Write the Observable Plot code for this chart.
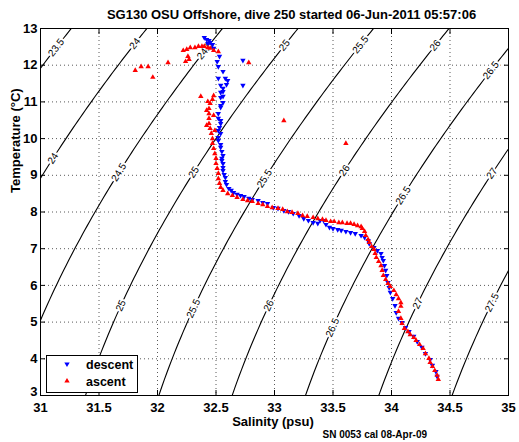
<!DOCTYPE html>
<html><head><meta charset="utf-8">
<script src="https://cdn.jsdelivr.net/npm/d3@7"></script>
<script src="https://cdn.jsdelivr.net/npm/@observablehq/plot@0.6"></script>
<style>
html,body{margin:0;padding:0;background:#fff;}
#chart{position:relative;width:519px;height:442px;}
</style></head><body><div id="chart"></div>
<script>
const chartTitle = "SG130 OSU Offshore, dive 250 started 06-Jun-2011 05:57:06";
const xLabel = "Salinity (psu)";
const yLabel = "Temperature (°C)";
const footnote = "SN 0053 cal 08-Apr-09";
const legendLabels = ["descent", "ascent"];
const salinityTicks = [31, 31.5, 32, 32.5, 33, 33.5, 34, 34.5, 35];
const temperatureTicks = [3, 4, 5, 6, 7, 8, 9, 10, 11, 12, 13];
const densityLevels = [23.5, 24, 24.5, 25, 25.5, 26, 26.5, 27, 27.5];

// contour label positions
const labelText = ["23.5","24","24","24.5","24.5","25","25","25","25.5","25.5","25.5","26","26","26","26.5","26.5","26.5","27","27","27.5"];
const labelS = [31.09,31.80,31.03,32.42,31.64,33.07,32.28,31.69,33.65,32.91,32.29,34.25,33.58,32.96,34.84,34.10,33.49,34.86,34.22,34.85];
const labelT = [12.48,12.59,9.46,12.40,9.08,12.54,9.08,5.45,12.56,8.91,5.37,12.54,9.13,5.45,11.86,8.45,4.85,9.05,5.51,5.53];

// descent (blue, downward triangles)
const descentS = [32.40,32.42,32.44,32.45,32.47,32.43,32.48,32.53,32.51,32.52,32.56,32.52,32.58,32.60,32.54,32.59,32.56,32.56,32.54,32.56,32.54,32.56,32.54,32.54,32.52,32.52,32.54,32.54,32.53,32.52,32.54,32.52,32.52,32.54,32.54,32.55,32.56,32.55,32.55,32.56,32.56,32.56,32.57,32.58,32.58,32.59,32.61,32.63,32.65,32.68,32.71,32.74,32.78,32.81,32.86,32.90,32.94,32.99,33.03,33.08,33.12,33.16,33.21,33.25,33.29,33.33,33.37,33.39,33.42,33.44,33.47,33.50,33.54,33.57,33.61,33.65,33.69,33.74,33.77,33.80,33.81,33.85,33.88,33.91,33.92,33.93,33.94,33.95,33.96,33.97,33.98,33.99,34.01,34.03,34.04,34.06,34.09,34.12,34.15,34.19,34.22,34.26,34.29,34.33,34.35,34.38,34.39,32.73,32.73];
const descentT = [12.75,12.70,12.67,12.62,12.56,12.59,12.46,12.24,12.10,11.96,11.83,11.64,11.64,11.58,11.45,11.47,11.37,11.28,11.26,11.15,11.12,10.98,10.90,10.85,10.68,10.55,10.49,10.41,10.30,10.22,10.14,10.03,9.95,9.84,9.76,9.65,9.54,9.46,9.40,9.32,9.21,9.13,9.02,8.94,8.83,8.75,8.64,8.59,8.53,8.48,8.45,8.42,8.37,8.34,8.31,8.26,8.23,8.12,8.10,8.04,8.01,7.96,7.90,7.82,7.77,7.71,7.69,7.77,7.77,7.66,7.58,7.55,7.52,7.50,7.47,7.44,7.41,7.36,7.31,7.22,7.14,7.03,6.95,6.87,6.76,6.68,6.54,6.41,6.27,6.08,5.94,5.81,5.64,5.45,5.26,5.10,4.99,4.85,4.74,4.61,4.47,4.31,4.14,3.98,3.82,3.65,3.52,12.13,11.45];

// ascent (red, upward triangles)
const ascentS = [34.40,34.39,34.37,34.35,34.33,34.32,34.29,34.27,34.24,34.21,34.19,34.16,34.14,34.11,34.09,34.08,34.06,34.08,34.08,34.06,34.04,34.02,33.99,33.97,33.95,33.93,33.92,33.91,33.89,33.87,33.86,33.85,33.83,33.81,33.80,33.78,33.77,33.75,33.74,33.71,33.68,33.65,33.62,33.58,33.55,33.51,33.48,33.44,33.41,33.37,33.33,33.28,33.24,33.20,33.15,33.11,33.07,33.03,32.98,32.94,32.90,32.86,32.81,32.77,32.73,32.68,32.64,32.60,32.56,32.54,32.53,32.52,32.52,32.51,32.50,32.50,32.49,32.48,32.47,32.47,32.46,32.45,32.44,32.44,32.44,32.44,32.45,32.47,32.43,32.48,32.37,32.42,32.48,32.42,32.49,32.52,32.48,32.45,32.43,32.40,32.38,32.35,32.32,32.28,32.25,32.22,32.26,32.27,32.24,32.09,31.96,31.92,31.86,31.81,32.78,33.08,33.61];
const ascentT = [3.44,3.55,3.68,3.79,3.90,4.01,4.14,4.28,4.39,4.50,4.58,4.66,4.74,4.83,4.96,5.10,5.29,5.43,5.53,5.64,5.75,5.86,5.97,6.05,6.16,6.27,6.41,6.54,6.65,6.76,6.87,6.98,7.06,7.17,7.25,7.36,7.47,7.55,7.60,7.63,7.66,7.69,7.69,7.71,7.71,7.74,7.74,7.77,7.80,7.82,7.85,7.88,7.90,7.96,7.99,8.01,8.07,8.10,8.12,8.15,8.20,8.23,8.29,8.31,8.34,8.40,8.45,8.50,8.59,8.67,8.78,8.91,9.05,9.19,9.32,9.46,9.59,9.73,9.87,10.00,10.14,10.28,10.41,10.55,10.68,10.82,10.96,11.07,11.01,11.17,11.15,10.77,10.63,10.36,10.22,12.37,12.40,12.46,12.48,12.51,12.51,12.51,12.48,12.48,12.43,12.40,12.24,12.16,12.10,12.07,11.67,11.96,11.96,11.86,12.07,10.49,9.87];

// ---- layout ----
const W = 519, H = 442, mT = 28, mL = 40, mR = 11, mB = 47;
const FONT = "'Liberation Sans', Arial, Helvetica, sans-serif";

// seawater potential density anomaly at surface (UNESCO 1981)
function sigma(S, T) {
  const T2 = T*T, T3 = T2*T, T4 = T3*T, T5 = T4*T;
  const rw = 999.842594 + 6.793952e-2*T - 9.095290e-3*T2 + 1.001685e-4*T3 - 1.120083e-6*T4 + 6.536332e-9*T5;
  const A = 8.24493e-1 - 4.0899e-3*T + 7.6438e-5*T2 - 8.2467e-7*T3 + 5.3875e-9*T4;
  const B = -5.72466e-3 + 1.0227e-4*T - 1.6546e-6*T2;
  const C = 4.8314e-4;
  return rw + A*S + B*S*Math.sqrt(S) + C*S*S - 1000;
}
function solveT(S, level) {
  let lo = -2, hi = 30;
  if (sigma(S, lo) < level || sigma(S, hi) > level) return null;
  for (let i = 0; i < 60; i++) { const m = (lo+hi)/2; if (sigma(S, m) > level) lo = m; else hi = m; }
  return (lo+hi)/2;
}
function solveS(T, level) {
  let lo = 25, hi = 40;
  for (let i = 0; i < 60; i++) { const m = (lo+hi)/2; if (sigma(m, T) < level) lo = m; else hi = m; }
  return (lo+hi)/2;
}

const contourPts = [];
for (const level of densityLevels) {
  for (const S of d3.range(30.6, 35.41, 0.02)) {
    const T = solveT(S, level);
    if (T !== null && T > 1 && T < 15) contourPts.push({level, S, T});
  }
}

const kx = (W - mL - mR) / (35 - 31), ky = (H - mT - mB) / (13 - 3);
const labels = labelText.map((text, i) => {
  const level = +text, T = labelT[i], S = solveS(T, level);
  const h = 1e-3;
  const dS = (sigma(S+h, T) - sigma(S-h, T)) / (2*h);
  const dT = (sigma(S, T+h) - sigma(S, T-h)) / (2*h);
  const slope = -dS / dT;
  const angle = Math.atan2(-ky*slope, kx) * 180 / Math.PI;
  return {text, S, T, angle};
});

const descent = descentS.map((S, i) => ({S, T: descentT[i]}));
const ascent = ascentS.map((S, i) => ({S, T: ascentT[i]}));

const sqrt3 = Math.sqrt(3);
const triangleDown = {
  draw(context, size) {
    const y = -Math.sqrt(size / (sqrt3 * 3));
    context.moveTo(0, -y * 2);
    context.lineTo(-sqrt3 * y, y);
    context.lineTo(sqrt3 * y, y);
    context.closePath();
  }
};
const BLUE = "#0000ff", RED = "#ff0000";

const plot = Plot.plot({
  width: W, height: H, marginTop: mT, marginLeft: mL, marginRight: mR, marginBottom: mB,
  style: {fontFamily: FONT, background: "white", color: "black", overflow: "visible"},
  x: {domain: [31, 35]},
  y: {domain: [3, 13]},
  marks: [
    Plot.gridX(salinityTicks.slice(1, -1), {stroke: "#222", strokeOpacity: 0.75, strokeDasharray: "1,3"}),
    Plot.gridY(temperatureTicks.slice(1, -1), {stroke: "#222", strokeOpacity: 0.75, strokeDasharray: "1,3"}),
    Plot.line(contourPts, {x: "S", y: "T", z: "level", stroke: "black", strokeWidth: 1.1, clip: true}),
    Plot.text(labels, {x: "S", y: "T", text: "text", rotate: "angle", fontSize: 10, fill: "black", stroke: "white", strokeWidth: 4, paintOrder: "stroke"}),
    Plot.dot(descent, {x: "S", y: "T", symbol: triangleDown, r: 2, fill: BLUE}),
    Plot.dot(ascent, {x: "S", y: "T", symbol: "triangle", r: 2, fill: RED}),
    Plot.frame({stroke: "black"}),
    Plot.axisX(salinityTicks, {anchor: "bottom", tickSize: -5, tickPadding: 12, fontSize: 13, fontWeight: "bold", label: null, tickFormat: d => String(d)}),
    Plot.axisX(salinityTicks, {anchor: "top", tickSize: -5, label: null, tickFormat: () => ""}),
    Plot.axisY(temperatureTicks.slice(1), {anchor: "left", tickSize: -5, tickPadding: 8, fontSize: 13, fontWeight: "bold", label: null, tickFormat: d => String(d)}),
    Plot.axisY(temperatureTicks.slice(0, 1), {anchor: "left", tickSize: 0, tickPadding: 3, dy: -4, fontSize: 13, fontWeight: "bold", label: null, tickFormat: d => String(d)}),
    Plot.axisY(temperatureTicks, {anchor: "right", tickSize: -5, label: null, tickFormat: () => ""}),
    Plot.text([chartTitle], {frameAnchor: "top", dx: 17, dy: -10, lineAnchor: "bottom", fontSize: 13, fontWeight: "bold"}),
    Plot.text([xLabel], {frameAnchor: "bottom", dx: -1.5, dy: 30, lineAnchor: "bottom", fontSize: 13, fontWeight: "bold"}),
    Plot.text([footnote], {frameAnchor: "bottom", textAnchor: "start", dx: 48, dy: 42, lineAnchor: "bottom", fontSize: 10, fontWeight: "bold"}),
    Plot.text([yLabel], {frameAnchor: "left", rotate: -90, dx: -21, dy: -19, lineAnchor: "bottom", fontSize: 13, fontWeight: "bold"})
  ]
});

// legend box (MATLAB style)
const svg = d3.select(plot);
const lg = svg.append("g").attr("font-family", FONT).attr("text-anchor", "start");
lg.append("rect").attr("x", 46.5).attr("y", 355.5).attr("width", 91).attr("height", 37)
  .attr("fill", "white").attr("stroke", "black");
const symSize = Math.PI * 4;
[[triangleDown, BLUE, 364], [d3.symbolTriangle, RED, 381]].forEach(([sym, col, y], i) => {
  lg.append("path").attr("d", d3.symbol(sym, symSize)()).attr("transform", `translate(67,${y})`).attr("fill", col);
  lg.append("text").attr("x", 86).attr("y", y + 5).attr("text-anchor", "start")
    .attr("font-size", 12.5).attr("font-weight", "bold").text(legendLabels[i]);
});

document.getElementById("chart").appendChild(plot);
</script>
</body></html>
